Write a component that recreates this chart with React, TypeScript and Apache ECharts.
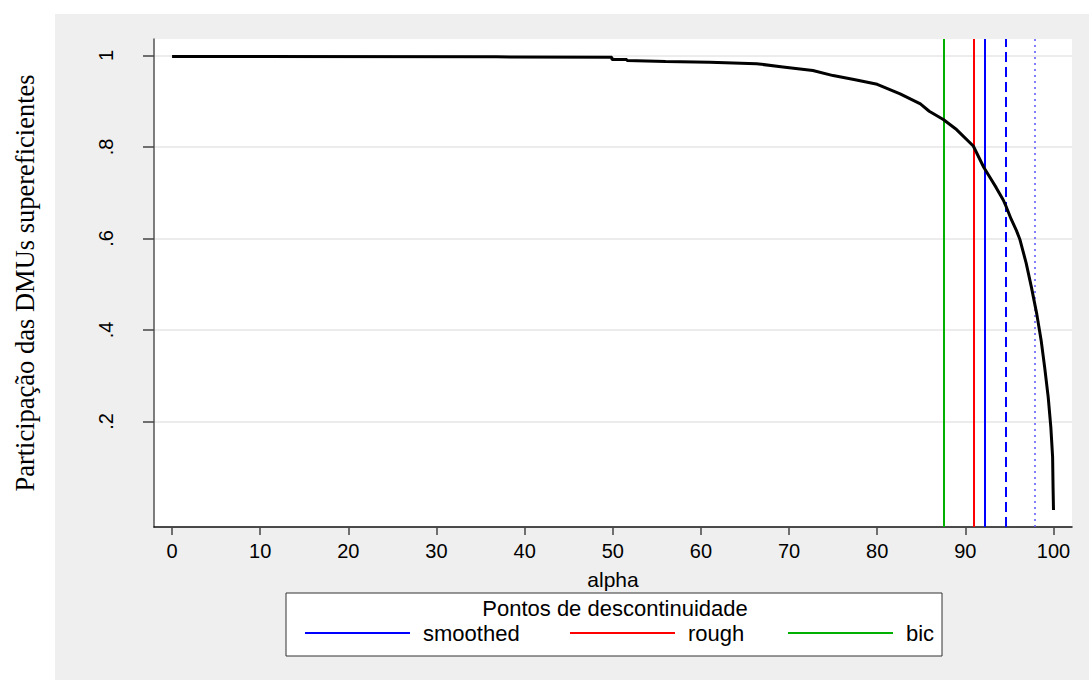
import React, { useEffect, useRef } from "react";
import * as echarts from "echarts";

// curve: share of super-efficient DMUs as a function of alpha
const alphaValues = [
  0, 6.4, 6.4, 36.8, 36.8, 49.9, 49.9, 51.6, 51.6, 56, 61, 66.3, 69.3, 72.7, 75,
  77.5, 80, 82.6, 84.9, 85.9, 87.5, 89.0, 90.9, 92.1, 92.8, 93.5, 94.3, 94.6,
  95.2, 95.8, 96.2, 96.9, 97.5, 98.1, 98.6, 99.0, 99.4, 99.7, 99.9, 99.95, 100,
];
const shareValues = [
  0.998, 0.998, 0.997, 0.997, 0.996, 0.996, 0.991, 0.991, 0.989, 0.987, 0.985,
  0.982, 0.975, 0.967, 0.956, 0.947, 0.937, 0.916, 0.894, 0.878, 0.86, 0.838,
  0.802, 0.755, 0.733, 0.711, 0.684, 0.671, 0.642, 0.617, 0.597, 0.546, 0.493,
  0.435, 0.377, 0.318, 0.253, 0.187, 0.122, 0.057, 0.006,
];

// discontinuity points
const smoothedCut = 92.2;
const roughCut = 90.9;
const bicCut = 87.5;
const dashedCut = 94.6;
const dottedCut = 97.9;

const xTicks = [0, 10, 20, 30, 40, 50, 60, 70, 80, 90, 100];
const yTicks = [0.2, 0.4, 0.6, 0.8, 1];

const legendNames = ["smoothed", "rough", "bic"];

const SANS = "'Liberation Sans', Arial, sans-serif";
const SERIF = "'Liberation Serif', 'Times New Roman', serif";

export default function App() {
  const ref = useRef<HTMLDivElement>(null);

  useEffect(() => {
    if (!ref.current) return;
    const chart = echarts.init(ref.current, undefined, { renderer: "svg" });
    const curve = alphaValues.map((a, i) => [a, shareValues[i]]);

    const legendBase = {
      top: 617,
      itemWidth: 105,
      itemHeight: 2,
      icon: "rect",
      textStyle: {
        fontFamily: SANS,
        fontSize: 22,
        color: "#000",
        padding: [0, 0, 0, 8],
      },
    };

    chart.setOption({
      animation: false,
      backgroundColor: "transparent",
      grid: {
        left: 154,
        top: 39,
        right: 17,
        bottom: 153,
        show: true,
        backgroundColor: "#fff",
        borderWidth: 0,
        outerBoundsMode: "none",
        containLabel: false,
      },
      xAxis: {
        type: "value",
        min: -2.05,
        max: 102.1,
        name: "alpha",
        nameLocation: "middle",
        nameGap: 42,
        nameTextStyle: { fontFamily: SANS, fontSize: 21, color: "#000" },
        axisLine: { onZero: false, lineStyle: { color: "#111", width: 1.5 } },
        axisTick: {
          customValues: xTicks,
          length: 8,
          lineStyle: { color: "#444", width: 1.5 },
        },
        axisLabel: {
          customValues: xTicks,
          fontFamily: SANS,
          fontSize: 20,
          color: "#000",
          margin: 14,
        },
        splitLine: { show: false },
      },
      yAxis: {
        type: "value",
        min: -0.031,
        max: 1.036,
        name: "Participação das DMUs supereficientes",
        nameLocation: "middle",
        nameGap: 116,
        nameTextStyle: { fontFamily: SERIF, fontSize: 26.5, color: "#000" },
        axisLine: { show: true, onZero: false, lineStyle: { color: "#555", width: 1.5 } },
        axisTick: {
          customValues: yTicks,
          length: 11,
          lineStyle: { color: "#444", width: 1.5 },
        },
        axisLabel: {
          customValues: yTicks,
          rotate: 90,
          fontFamily: SANS,
          fontSize: 20,
          color: "#000",
          margin: 38,
          formatter: (v: number) => (v === 1 ? "1" : String(v).replace(/^0\./, ".")),
        },
        splitLine: { show: true, lineStyle: { color: "#e6e6e6", width: 1.5 } },
      },
      legend: [
        { ...legendBase, left: 300, data: [legendNames[0]] },
        { ...legendBase, left: 565, data: [legendNames[1]] },
        { ...legendBase, left: 783, data: [legendNames[2]] },
      ],
      graphic: [
        {
          type: "rect",
          shape: { x: 286, y: 593, width: 656, height: 63 },
          style: { fill: "#fff", stroke: "#333", lineWidth: 1 },
          z: 0,
        },
        {
          type: "text",
          x: 615,
          y: 608,
          style: {
            text: "Pontos de descontinuidade",
            fontFamily: SANS,
            fontSize: 22,
            fill: "#000",
            align: "center",
            verticalAlign: "middle",
          },
          z: 1,
        },
      ],
      series: [
        {
          name: "curve",
          type: "line",
          data: curve,
          symbol: "none",
          lineStyle: { color: "#000", width: 3 },
          z: 5,
        },
        {
          name: legendNames[0],
          type: "line",
          data: [],
          color: "#0000ff",
          symbol: "none",
          markLine: {
            silent: true,
            symbol: "none",
            label: { show: false },
            data: [
              { xAxis: smoothedCut, lineStyle: { color: "#0000ff", width: 2, type: "solid" } },
              { xAxis: dashedCut, lineStyle: { color: "#0000ff", width: 2, type: [10, 5] } },
              { xAxis: dottedCut, lineStyle: { color: "#5555ff", width: 1.5, type: [2, 4] } },
            ],
          },
        },
        {
          name: legendNames[1],
          type: "line",
          data: [],
          color: "#ff0000",
          symbol: "none",
          markLine: {
            silent: true,
            symbol: "none",
            label: { show: false },
            data: [{ xAxis: roughCut, lineStyle: { color: "#ff0000", width: 2, type: "solid" } }],
          },
        },
        {
          name: legendNames[2],
          type: "line",
          data: [],
          color: "#00b000",
          symbol: "none",
          markLine: {
            silent: true,
            symbol: "none",
            label: { show: false },
            data: [{ xAxis: bicCut, lineStyle: { color: "#00b000", width: 2, type: "solid" } }],
          },
        },
      ],
    });
    return () => chart.dispose();
  }, []);

  return (
    <div style={{ position: "fixed", left: 0, top: 0, width: 1089, height: 680, background: "#fff" }}>
      <div
        style={{ position: "absolute", left: 55, top: 14, right: 0, bottom: 0, background: "#efefef" }}
      />
      <div ref={ref} style={{ position: "absolute", left: 0, top: 0, width: 1089, height: 680 }} />
    </div>
  );
}
